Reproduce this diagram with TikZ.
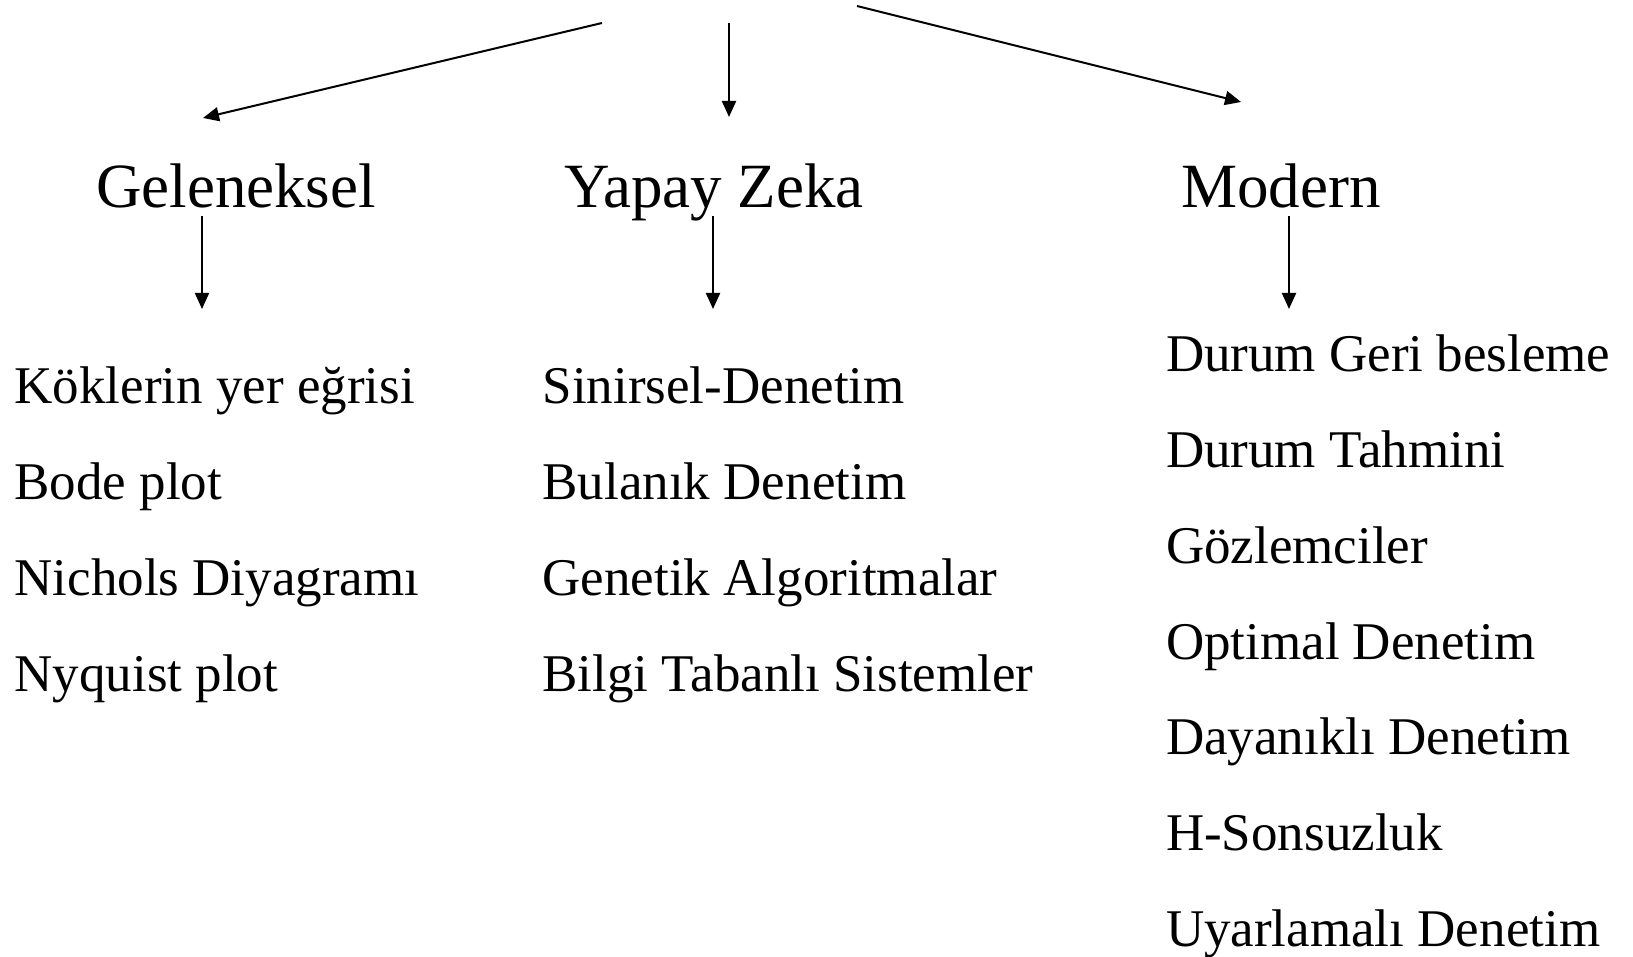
\documentclass[tikz,border=0pt]{standalone}
\usepackage{fontspec}
\setmainfont{Liberation Serif}
\usetikzlibrary{positioning,arrows.meta}

\begin{document}
\begin{tikzpicture}[x=1pt, y=1pt, line width=2pt,
    >={Triangle[length=16pt,width=14pt]},
    head/.style={font=\fontsize{63}{63}\selectfont, anchor=base, inner sep=0pt},
    item/.style={font=\fontsize{53}{53}\selectfont, anchor=base west, inner sep=0pt}]
  \useasboundingbox (0,0) rectangle (1633,957);
  % basliklar
  \node[head] (gel) at (236,749) {Geleneksel};
  \node[head] (yz) at (714,749) {Yapay Zeka};
  \node[head] (mod) at (1281,749) {Modern};
  % ust oklar
  \coordinate (srcL) at (602,934);
  \coordinate (srcM) at (729,934);
  \coordinate (srcR) at (857,951);
  \coordinate (tipL) at (203,839);
  \coordinate (tipM) at (729,840);
  \coordinate (tipR) at (1241,855);
  \draw[->] (srcL) -- (tipL);
  \draw[->] (srcM) -- (tipM);
  \draw[->] (srcR) -- (tipR);
  % alt oklar
  \coordinate (gelOut) at (202,741);
  \coordinate (yzOut) at (713,741);
  \coordinate (modOut) at (1289,741);
  \draw[->] (gelOut) -- (gelOut |- 0,648);
  \draw[->] (yzOut) -- (yzOut |- 0,648);
  \draw[->] (modOut) -- (modOut |- 0,648);
  % geleneksel
  \node[item] (kok) at (13.5,553) {Köklerin yer eğrisi};
  \node[below=96pt of kok.base west, item] (bode) {Bode plot};
  \node[below=96pt of bode.base west, item] (nic) {Nichols Diyagramı};
  \node[below=96pt of nic.base west, item] (nyq) {Nyquist plot};
  % yapay zeka
  \node[item] (sin) at (541.6,553) {Sinirsel-Denetim};
  \node[below=96pt of sin.base west, item] (bul) {Bulanık Denetim};
  \node[below=96pt of bul.base west, item] (gen) {Genetik Algoritmalar};
  \node[below=96pt of gen.base west, item] (bil) {Bilgi Tabanlı Sistemler};
  % modern
  \node[item] (dgb) at (1165,585) {Durum Geri besleme};
  \node[below=95.7pt of dgb.base west, item] (dt) {Durum Tahmini};
  \node[below=95.7pt of dt.base west, item] (goz) {Gözlemciler};
  \node[below=95.7pt of goz.base west, item] (opt) {Optimal Denetim};
  \node[below=95.7pt of opt.base west, item] (day) {Dayanıklı Denetim};
  \node[below=95.7pt of day.base west, item] (hs) {H-Sonsuzluk};
  \node[below=95.7pt of hs.base west, item] (uya) {Uyarlamalı Denetim};
\end{tikzpicture}
\end{document}
